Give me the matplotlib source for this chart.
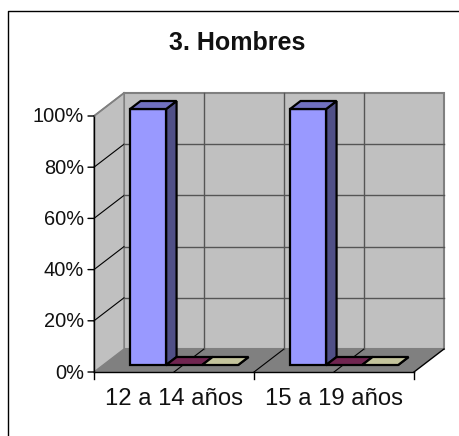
import matplotlib
matplotlib.use('Agg')
import matplotlib.pyplot as plt
from matplotlib.patches import Polygon

categories = ['12 a 14 años', '15 a 19 años']
serie_1 = [100, 100]
serie_2 = [0, 0]
serie_3 = [0, 0]
colors = ['#9999ff', '#993366', '#ffffcc']
dark_colors = ['#505087', '#662244', '#aaaa88']
top_colors = ['#7070c0', '#702550', '#c4c49c']
y_ticks = [0, 20, 40, 60, 80, 100]

W, H = 459, 436
plt.rcParams['font.family'] = ['Liberation Sans', 'DejaVu Sans']

fig = plt.figure(figsize=(W / 100, H / 100), dpi=100)
ax = fig.add_axes([94 / W, (H - 372) / H, 320 / W, 256 / H])
ax.set_xlim(0, len(categories))
ax.set_ylim(0, 100)
ax.axis('off')

# depth of the 3d box, in data units
dx = 30 / 160
dy = 23 / 2.56


def pt(x, y, z=0):
    return (x + dx * z, y + dy * z)


def poly(points, **kw):
    kw.setdefault('clip_on', False)
    ax.add_patch(Polygon(points, closed=True, **kw))


n = len(categories)
wall = '#c0c0c0'
grey = '#808080'

# walls and floor
poly([pt(0, 0, 1), pt(n, 0, 1), pt(n, 100, 1), pt(0, 100, 1)], fc=wall, ec=grey, lw=1.5, zorder=1)
poly([pt(0, 0), pt(0, 0, 1), pt(0, 100, 1), pt(0, 100)], fc=wall, ec=grey, lw=1, zorder=1)
poly([pt(0, 0), pt(n, 0), pt(n, 0, 1), pt(0, 0, 1)], fc=grey, ec='none', zorder=1.5)

# grid
for v in y_ticks[1:-1]:
    a, b, c = pt(0, v), pt(0, v, 1), pt(n, v, 1)
    ax.plot([a[0], b[0]], [a[1], b[1]], color='black', lw=0.8, clip_on=False, zorder=2)
    ax.plot([b[0], c[0]], [b[1], c[1]], color='#555555', lw=1, clip_on=False, zorder=2)
for k in range(1, 2 * n):
    x = k / 2
    a, b, c = pt(x, 0), pt(x, 0, 1), pt(x, 100, 1)
    ax.plot([a[0], b[0]], [a[1], b[1]], color='black', lw=0.8, clip_on=False, zorder=2)
    ax.plot([b[0], c[0]], [b[1], c[1]], color='#555555', lw=1, clip_on=False, zorder=2)

# axes lines and ticks
ax.plot([0, 0], [0, 100], color='black', lw=1, clip_on=False, zorder=3)
ax.plot([0, n], [0, 0], color='black', lw=1, clip_on=False, zorder=3)
a, b = pt(0, 100), pt(0, 100, 1)
ax.plot([a[0], b[0]], [a[1], b[1]], color=grey, lw=1.3, clip_on=False, zorder=3)
a, b = pt(n, 0), pt(n, 0, 1)
ax.plot([a[0], b[0]], [a[1], b[1]], color='black', lw=1, clip_on=False, zorder=3)

for v in y_ticks:
    ax.annotate('', (0, v), (-6, 0), textcoords='offset pixels', arrowprops=dict(arrowstyle='-', lw=1, shrinkA=0, shrinkB=0, color='black'), annotation_clip=False)
    ax.annotate(f'{v}%', (0, v), xytext=(-10, -1), textcoords='offset pixels', ha='right', va='center', fontsize=14.4, color='#111111', annotation_clip=False)
for k in range(n + 1):
    ax.plot([k, k], [0, -2.6], color='black', lw=1, clip_on=False, zorder=3)
for k, name in enumerate(categories):
    ax.text(k + 0.5, -10.7, name, ha='center', va='center', fontsize=17.2, color='#111111', clip_on=False)

# bars
bar_w = 36 / 160
z0, z1 = 7 / 23, 15 / 23
start = 27 / 160
series = [serie_1, serie_2, serie_3]
z = 5
for c in range(n):
    for s, values in enumerate(series):
        v = values[c]
        x0 = c + start + s * bar_w
        x1 = x0 + bar_w
        style = dict(ec='black', lw=1.6, joinstyle='miter', zorder=z)
        poly([pt(x1, 0, z0), pt(x1, 0, z1), pt(x1, v, z1), pt(x1, v, z0)], fc=dark_colors[s], **style)
        if v > 0:
            poly([pt(x0, 0, z0), pt(x1, 0, z0), pt(x1, v, z0), pt(x0, v, z0)], fc=colors[s], **style)
        poly([pt(x0, v, z0), pt(x1, v, z0), pt(x1, v, z1), pt(x0, v, z1)], fc=top_colors[s], **style)

fig.text(237.5 / W, 1 - 43 / H, '3. Hombres', ha='center', va='center', fontsize=18, fontweight='bold', color='#111111')

# outer frame
fig.add_artist(plt.Line2D([7.5 / W, 7.5 / W, 1], [0, 1 - 11 / H, 1 - 11 / H], color='black', lw=1))

fig.savefig('out.png', dpi=100)
